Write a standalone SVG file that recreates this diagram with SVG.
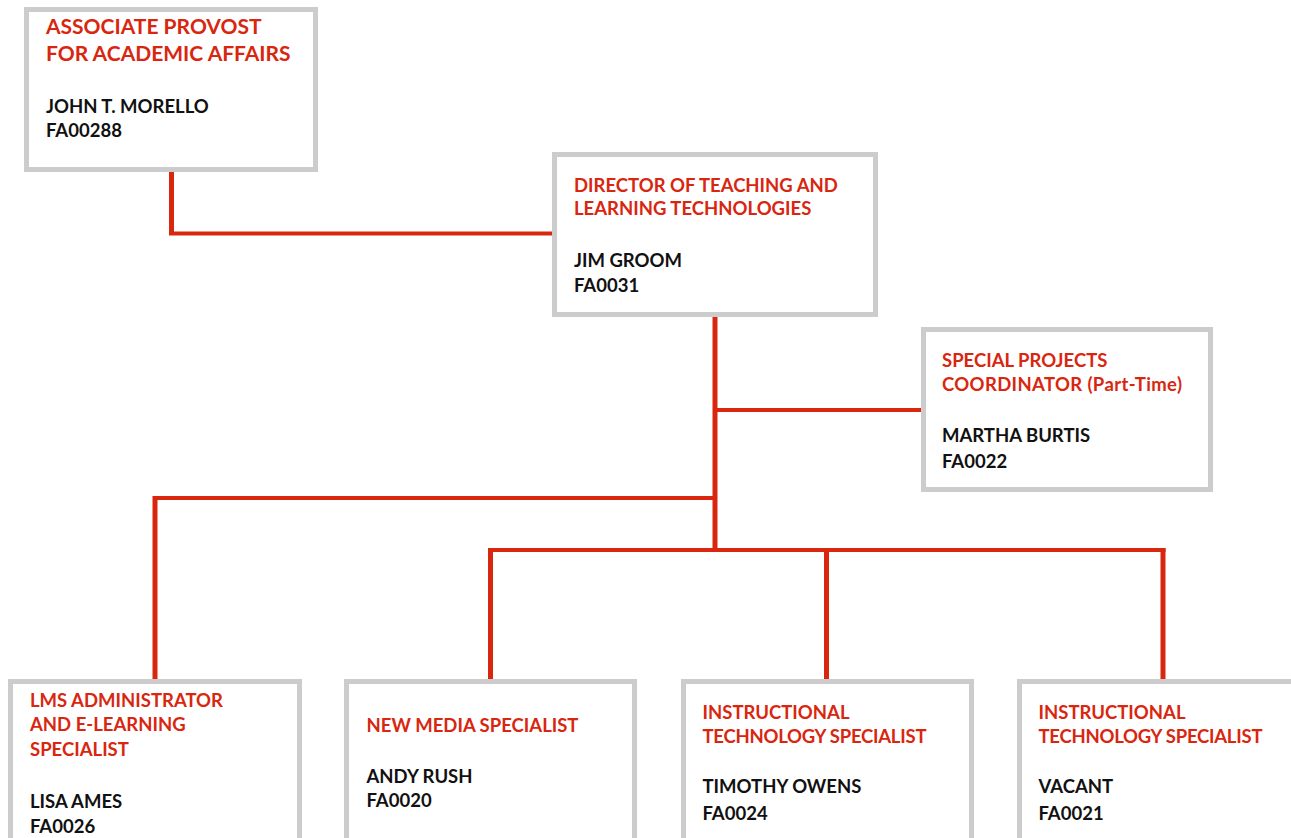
<svg xmlns="http://www.w3.org/2000/svg" width="1291" height="838" viewBox="0 0 1291 838">
<style>
.box{fill:#fff;stroke:#cccccc;stroke-width:5}
.t{font-family:Lato,"Open Sans",sans-serif;font-weight:700;font-size:18.5px}
.r{fill:#d9260f}
.k{fill:#111}
.big{font-size:21px}
.ln{stroke:#d9260f;fill:none}
.h{stroke-width:4}
.v{stroke-width:5}
</style>
<rect width="1291" height="838" fill="#fff"/>
<g id="connectors">
<path class="ln v" d="M171.5 172V234"/>
<path class="ln h" d="M169 233.5H554"/>
<path class="ln v" d="M715 317V551"/>
<path class="ln h" d="M715 410H921"/>
<path class="ln h" d="M153 498H717"/>
<path class="ln v" d="M155 496V679"/>
<path class="ln h" d="M488 550H1165.5"/>
<path class="ln v" d="M490.5 548V679"/>
<path class="ln v" d="M826.5 548V679"/>
<path class="ln v" d="M1163 548V679"/>
</g>
<g id="n1">
<rect class="box" x="26.5" y="9.5" width="289" height="160"/>
<text class="t r big" x="46" y="34">ASSOCIATE PROVOST</text>
<text class="t r big" x="46" y="61">FOR ACADEMIC AFFAIRS</text>
<text class="t k" x="46" y="113">JOHN T. MORELLO</text>
<text class="t k" x="46" y="137">FA00288</text>
</g>
<g id="n2">
<rect class="box" x="554.5" y="154.5" width="321" height="160"/>
<text class="t r" x="574" y="191.5">DIRECTOR OF TEACHING AND</text>
<text class="t r" x="574" y="215">LEARNING TECHNOLOGIES</text>
<text class="t k" x="574" y="266.5">JIM GROOM</text>
<text class="t k" x="574" y="291.5">FA0031</text>
</g>
<g id="n3">
<rect class="box" x="923.5" y="329.5" width="287" height="160"/>
<text class="t r" x="942" y="366.5">SPECIAL PROJECTS</text>
<text class="t r" x="942" y="390.5" textLength="240" lengthAdjust="spacing">COORDINATOR (Part-Time)</text>
<text class="t k" x="942" y="441.5">MARTHA BURTIS</text>
<text class="t k" x="942" y="468">FA0022</text>
</g>
<g id="n4">
<rect class="box" x="10.5" y="681.5" width="289" height="200"/>
<text class="t r" x="30" y="706.5">LMS ADMINISTRATOR</text>
<text class="t r" x="30" y="731">AND E-LEARNING</text>
<text class="t r" x="30" y="756">SPECIALIST</text>
<text class="t k" x="30" y="807.5">LISA AMES</text>
<text class="t k" x="30" y="833">FA0026</text>
</g>
<g id="n5">
<rect class="box" x="346.5" y="681.5" width="288" height="200"/>
<text class="t r" x="366.5" y="731.5">NEW MEDIA SPECIALIST</text>
<text class="t k" x="366.5" y="782.5">ANDY RUSH</text>
<text class="t k" x="366.5" y="806.5">FA0020</text>
</g>
<g id="n6">
<rect class="box" x="683.5" y="681.5" width="288" height="200"/>
<text class="t r" x="702.5" y="719">INSTRUCTIONAL</text>
<text class="t r" x="702.5" y="742.5" textLength="224" lengthAdjust="spacing">TECHNOLOGY SPECIALIST</text>
<text class="t k" x="702.5" y="793">TIMOTHY OWENS</text>
<text class="t k" x="702.5" y="820">FA0024</text>
</g>
<g id="n7">
<rect class="box" x="1019.5" y="681.5" width="290" height="200"/>
<text class="t r" x="1038.5" y="719">INSTRUCTIONAL</text>
<text class="t r" x="1038.5" y="742.5" textLength="224" lengthAdjust="spacing">TECHNOLOGY SPECIALIST</text>
<text class="t k" x="1038.5" y="793">VACANT</text>
<text class="t k" x="1038.5" y="820">FA0021</text>
</g>
</svg>
